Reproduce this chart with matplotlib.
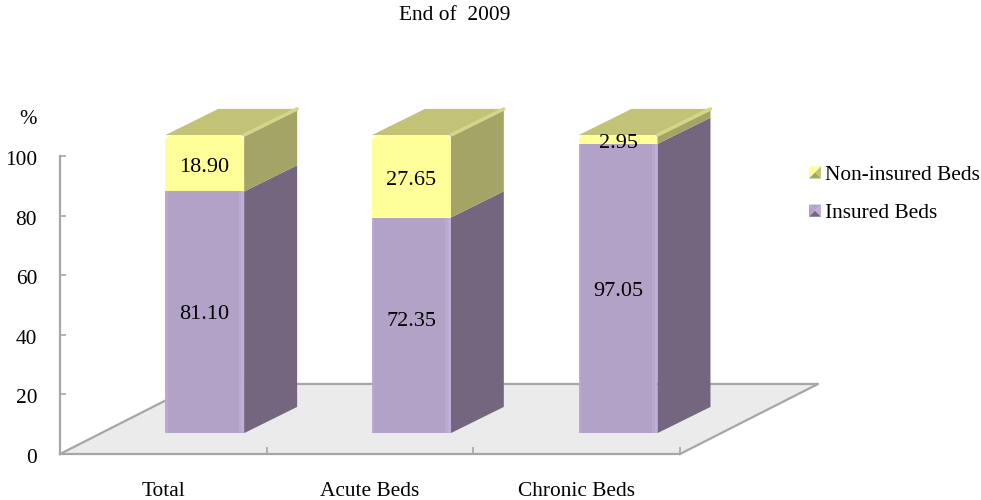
import matplotlib
matplotlib.use("Agg")
import matplotlib.pyplot as plt
from matplotlib.legend_handler import HandlerBase
from matplotlib.patches import Patch, Polygon
from matplotlib.transforms import ScaledTranslation

plt.rcParams["font.family"] = ["Liberation Serif", "DejaVu Serif"]
plt.rcParams["font.size"] = 15.4

categories = ["Total", "Acute Beds", "Chronic Beds"]
insured = [81.10, 72.35, 97.05]
non_insured = [18.90, 27.65, 2.95]
y_ticks = [0, 20, 40, 60, 80, 100]

# oblique projection, x in category widths and y in percent
BAR_W = 0.382
BAR_DX, BAR_DY = 0.2, 7.0
SIDE_DX, SIDE_DY = 0.2565, 8.8
FLOOR_DX, FLOOR_DY = 0.668, 23.5

PURPLE = ("#b3a2c7", "#75667f", "#c0afd6")
YELLOW = ("#ffff99", "#a4a466", "#c3c378")
AXIS_GREY = "#a6a6a6"

W, H = 981, 500
fig = plt.figure(figsize=(W / 100, H / 100), dpi=100)
ax = fig.add_axes([60 / W, 1 - 454 / H, 620 / W, 298 / H])
ax.set_xlim(-0.5, 2.5)
ax.set_ylim(0, 100)

for side in ("top", "right"):
    ax.spines[side].set_visible(False)
for side in ("left", "bottom"):
    ax.spines[side].set_color(AXIS_GREY)
    ax.spines[side].set_linewidth(1.6)
    ax.spines[side].set_zorder(3)

ax.set_yticks(y_ticks)
ax.tick_params(axis="y", direction="in", length=4, width=1.2, color=AXIS_GREY, pad=16.5)
ax.set_xticks(range(len(categories)))
ax.set_xticklabels(categories)
ax.set_xticks([0.5, 1.5, 2.5], minor=True)
ax.tick_params(axis="x", which="major", length=0, pad=20.5)
ax.tick_params(axis="x", which="minor", direction="in", length=5, width=1.2, color=AXIS_GREY)

# nudge the y labels down a touch
down = ScaledTranslation(0, -1.5 / 72, fig.dpi_scale_trans)
for lbl in ax.get_yticklabels():
    lbl.set_transform(lbl.get_transform() + down)

# floor of the plot
floor = [(-0.5, 0), (2.5, 0), (2.5 + FLOOR_DX, FLOOR_DY), (-0.5 + FLOOR_DX, FLOOR_DY)]
ax.add_patch(Polygon(floor, closed=True, fc="#ebebeb", ec="none", clip_on=False, zorder=1))
ax.plot([floor[1][0], floor[2][0], floor[3][0]], [floor[1][1], floor[2][1], floor[3][1]],
        color=AXIS_GREY, lw=1.6, clip_on=False, zorder=2)
ax.plot([floor[0][0], floor[3][0]], [floor[0][1], floor[3][1]],
        color=AXIS_GREY, lw=1.6, clip_on=False, zorder=2)


def draw_side(x, y0, y1, face, top_color=None):
    # right hand face of a segment, x is the left edge of the front
    xr = x + BAR_W
    pts = [(xr, y0), (xr + SIDE_DX, y0 + SIDE_DY), (xr + SIDE_DX, y1 + SIDE_DY), (xr, y1)]
    ax.add_patch(Polygon(pts, closed=True, fc=face, ec="none", clip_on=False, zorder=4))
    if top_color:
        top = [(x, y1), (xr, y1), (xr + SIDE_DX, y1 + SIDE_DY), (x + SIDE_DX, y1 + SIDE_DY)]
        ax.add_patch(Polygon(top, closed=True, fc=top_color, ec="none", clip_on=False, zorder=4))


def draw_sheen(x, y0, y1, color):
    # soft lighter bands along the vertical edges of the front
    for off, w, a in [(0.0, 0.012, 0.6), (BAR_W - 0.026, 0.012, 0.6), (BAR_W - 0.014, 0.014, 1.0)]:
        ax.bar(x + off, y1 - y0, w, bottom=y0, align="edge", color=color, alpha=a,
               lw=0, clip_on=False, zorder=6)


# the middle column's lower label sits a little above its segment centre
label_lift = [0.0, 2.3, 0.0]

for i, (ins, non) in enumerate(zip(insured, non_insured)):
    x = i + BAR_DX - BAR_W / 2
    y0 = BAR_DY
    y1 = y0 + ins
    y2 = y1 + non

    draw_side(x, y0, y1, PURPLE[1])
    draw_side(x, y1, y2, YELLOW[1], YELLOW[2])

    ax.bar(x, ins, BAR_W, bottom=y0, align="edge", color=PURPLE[0], lw=0, clip_on=False, zorder=5)
    draw_sheen(x, y0, y1, PURPLE[2])

    # yellow front with eased top corners
    bars = ax.bar(x, non, BAR_W, bottom=y1, align="edge", color=YELLOW[0], lw=0, zorder=5)
    cx, cy = 0.02, min(1.6, non / 2)
    clip = Polygon([(x, y1), (x + BAR_W, y1), (x + BAR_W, y2 - cy), (x + BAR_W - cx, y2),
                    (x + cx, y2), (x, y2 - cy)], closed=True, transform=ax.transData)
    bars[0].set_clip_box(fig.bbox)
    bars[0].set_clip_path(clip)

    # highlight where the top meets the side
    xr = x + BAR_W
    ax.plot([xr, xr + SIDE_DX], [y2, y2 + SIDE_DY], color="#d6d68a", lw=2.5,
            clip_on=False, solid_capstyle="round", zorder=5)

    ax.text(i + BAR_DX, y0 + ins / 2 - 0.9 + label_lift[i], f"{ins:.2f}", ha="center", va="center",
            fontsize=16, zorder=8)
    ax.text(i + BAR_DX, y1 + non / 2 - 1.3, f"{non:.2f}", ha="center", va="center",
            fontsize=16, zorder=8)


class BevelSwatch(HandlerBase):
    # small square split into four shaded triangles
    def create_artists(self, legend, orig, xd, yd, width, height, fontsize, trans):
        x0, y0 = -xd, -yd
        x1, y1 = x0 + width, y0 + height
        xc, yc = x0 + width / 2, y0 + height / 2
        front, side, top = orig.front_colors
        tris = [
            ([(x0, y0), (x0, y1), (xc, yc)], front),
            ([(x0, y1), (x1, y1), (xc, yc)], front),
            ([(x1, y1), (x1, y0), (xc, yc)], top),
            ([(x1, y0), (x0, y0), (xc, yc)], side),
        ]
        return [Polygon(p, closed=True, fc=c, ec="none", transform=trans) for p, c in tris]


non_handle = Patch(label="Non-insured Beds")
non_handle.front_colors = YELLOW
ins_handle = Patch(label="Insured Beds")
ins_handle.front_colors = PURPLE
ax.legend(handles=[non_handle, ins_handle], handler_map={Patch: BevelSwatch()},
          loc="upper left", bbox_to_anchor=(809 / W, 1 - 166 / H), bbox_transform=fig.transFigure,
          frameon=False, borderpad=0, borderaxespad=0, handlelength=0.56, handleheight=0.5,
          handletextpad=0.2, labelspacing=0.9, fontsize=15.4)

fig.text(455 / W, 1 - 16 / H, "End of  2009", ha="center", va="center", fontsize=15.4)
fig.text(28 / W, 1 - 120 / H, "%", ha="center", va="center", fontsize=15)

fig.savefig("out.png", dpi=100)
